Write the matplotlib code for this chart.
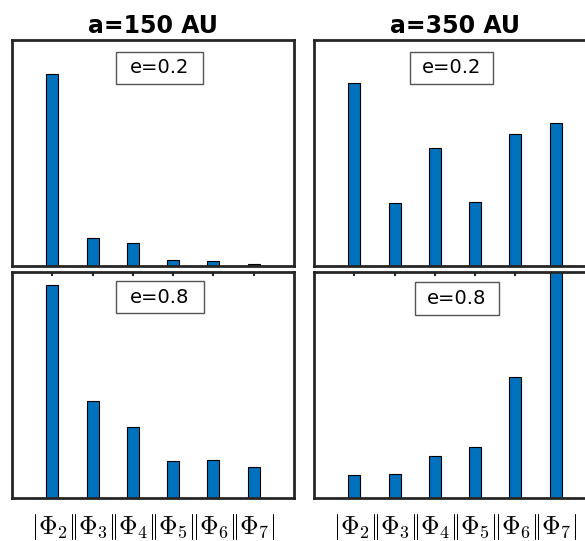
import numpy as np
import matplotlib.pyplot as plt
from matplotlib.patches import Rectangle

plt.rcParams['mathtext.fontset'] = 'cm'

# DATA (relative amplitudes)

modes = [2, 3, 4, 5, 6, 7]
tick_labels = [r'$|\Phi_{\mathsf{%d}}|$' % m for m in modes]

columns = ['a=150 AU', 'a=350 AU']
ecc_labels = ['e=0.2', 'e=0.8']

a150_e02 = [0.849, 0.124, 0.099, 0.024, 0.020, 0.009]
a350_e02 = [0.811, 0.278, 0.520, 0.281, 0.582, 0.634]
a150_e08 = [0.944, 0.427, 0.313, 0.164, 0.166, 0.135]
a350_e08 = [0.100, 0.106, 0.183, 0.225, 0.533, 1.150]

# LAYOUT

BAR_COLOR = '#0072BD'
SPINE_COLOR = '#262626'

fig = plt.figure(figsize=(5.85, 5.41), dpi=100)

W = 282 / 585
H = 225.7 / 541
left_x = [12 / 585, 314 / 585]
bottom_y = [1 - 265.7 / 541, 1 - 497.7 / 541]

panels = [
    [a150_e02, a350_e02],
    [a150_e08, a350_e08],
]

# rectangle boxes for the e=... labels, axes fraction (x0, y0, x1, y1)
boxes = [
    [(0.370, 0.804, 0.676, 0.948), (0.342, 0.804, 0.635, 0.948)],
    [(0.370, 0.817, 0.680, 0.961), (0.357, 0.809, 0.655, 0.955)],
]

x = np.arange(1, len(modes) + 1)

for row in range(2):
    for col in range(2):
        ax = fig.add_axes([left_x[col], bottom_y[row], W, H])
        ax.bar(x, panels[row][col], width=0.3, color=BAR_COLOR,
               edgecolor='black', linewidth=0.8, zorder=2)
        ax.set_xlim(0, 7)
        ax.set_ylim(0, 1)
        ax.set_yticks([])
        for sp in ax.spines.values():
            sp.set_linewidth(2)
            sp.set_color(SPINE_COLOR)
            sp.set_zorder(4)

        if row == 0:
            ax.set_xticks([])
            ax.set_title(columns[col], fontsize=17, fontweight='bold', pad=5)
        else:
            ax.set_xticks(x)
            ax.set_xticklabels(tick_labels, fontsize=18.5)
            ax.tick_params(axis='x', direction='in', top=True, bottom=True,
                           length=3, width=1.5, color=SPINE_COLOR, pad=10)

        x0, y0, x1, y1 = boxes[row][col]
        ax.add_patch(Rectangle((x0, y0), x1 - x0, y1 - y0,
                               transform=ax.transAxes, facecolor='white',
                               edgecolor='#555555', linewidth=1, zorder=3))
        ax.text((x0 + x1) / 2, (y0 + y1) / 2, ecc_labels[row],
                transform=ax.transAxes, ha='center', va='center',
                fontsize=14, zorder=5)

fig.savefig('out.png', dpi=100)
